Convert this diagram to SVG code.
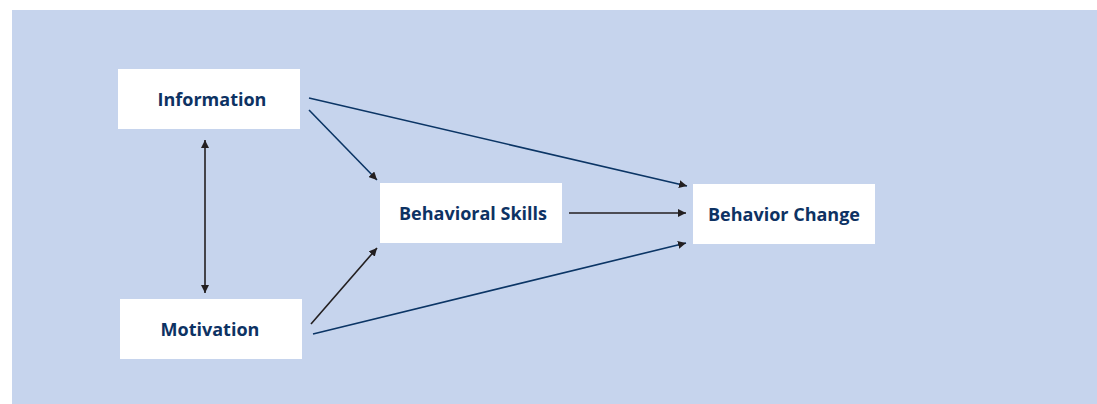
<svg xmlns="http://www.w3.org/2000/svg" width="1097" height="404" viewBox="0 0 1097 404">
<style>
.box{fill:#ffffff}
.lbl{font-family:"Open Sans","Noto Sans","Liberation Sans",sans-serif;font-weight:bold;font-size:18px;fill:#0d3263;text-anchor:middle}
.navy{stroke:#0b3565;stroke-width:1.6;fill:none}
.blk{stroke:#231f20;stroke-width:1.6;fill:none}
</style>
<defs>
<marker id="ah" viewBox="0 0 10 10" refX="10" refY="5" markerWidth="8" markerHeight="8" markerUnits="userSpaceOnUse" orient="auto-start-reverse">
<path d="M0,0 L10,5 L0,10 z" fill="#231f20"/>
</marker>
</defs>
<rect x="12" y="10" width="1085" height="394" fill="#c6d4ed"/>
<g id="connectors">
<line class="navy" x1="309" y1="110" x2="377" y2="180" marker-end="url(#ah)"/>
<line class="navy" x1="309" y1="98" x2="687" y2="186" marker-end="url(#ah)"/>
<line class="blk" x1="205" y1="140" x2="205" y2="293" marker-start="url(#ah)" marker-end="url(#ah)"/>
<line class="blk" x1="311" y1="324" x2="377" y2="248" marker-end="url(#ah)"/>
<line class="navy" x1="313" y1="334" x2="686" y2="243" marker-end="url(#ah)"/>
<line class="blk" x1="569" y1="213" x2="686" y2="213" marker-end="url(#ah)"/>
</g>
<g id="information">
<rect class="box" x="118" y="69" width="182" height="60"/>
<text class="lbl" x="212" y="106">Information</text>
</g>
<g id="motivation">
<rect class="box" x="120" y="299" width="182" height="60"/>
<text class="lbl" x="210" y="336">Motivation</text>
</g>
<g id="behavioral-skills">
<rect class="box" x="380" y="183" width="182" height="60"/>
<text class="lbl" x="473" y="220">Behavioral Skills</text>
</g>
<g id="behavior-change">
<rect class="box" x="693" y="184" width="182" height="60"/>
<text class="lbl" x="784" y="221">Behavior Change</text>
</g>
</svg>
